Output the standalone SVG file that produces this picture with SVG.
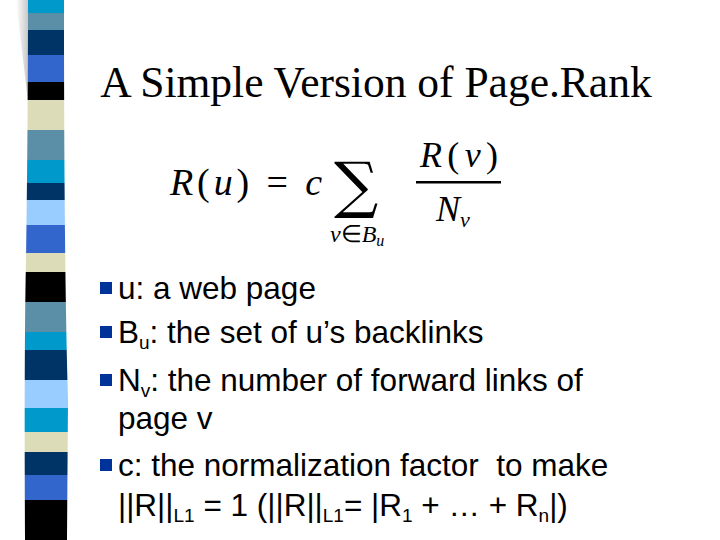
<svg xmlns="http://www.w3.org/2000/svg" width="720" height="540" viewBox="0 0 720 540">
<style>
.t{font-family:"Liberation Sans",Arial,sans-serif;font-size:31.5px;fill:#000}
.s{font-size:19px}
.m{font-family:"Liberation Serif","Times New Roman",serif;font-style:italic;fill:#000}
.b{fill:#003399}
</style>
<defs>
<clipPath id="cp"><path d="M28,0 L64,0 Q64,270 68,400 L67,540 L25,540 Q24,350 26,260 Q28,120 28,0Z"/></clipPath>
<linearGradient id="sh" x1="0" x2="1"><stop offset="0" stop-color="#fff"/><stop offset="1" stop-color="#aaa"/></linearGradient>
</defs>
<rect width="720" height="540" fill="#fff"/>
<g id="stripe">
<path d="M16,0 L29,0 Q28,60 29,110 Z" fill="url(#sh)" opacity="0.7"/>
<g clip-path="url(#cp)">
<rect x="20" y="0" width="60" height="13" fill="#0099cc"/>
<rect x="20" y="13" width="60" height="17" fill="#5b8fa8"/>
<rect x="20" y="30" width="60" height="25" fill="#003366"/>
<rect x="20" y="55" width="60" height="27" fill="#3366cc"/>
<rect x="20" y="82" width="60" height="18" fill="#000"/>
<rect x="20" y="100" width="60" height="30" fill="#dddcb8"/>
<rect x="20" y="130" width="60" height="30" fill="#5b8fa8"/>
<rect x="20" y="160" width="60" height="23" fill="#0099cc"/>
<rect x="20" y="183" width="60" height="17" fill="#003366"/>
<rect x="20" y="200" width="60" height="25" fill="#99ccff"/>
<rect x="20" y="225" width="60" height="28" fill="#3366cc"/>
<rect x="20" y="253" width="60" height="19" fill="#dddcb8"/>
<rect x="20" y="272" width="60" height="30" fill="#000"/>
<rect x="20" y="302" width="60" height="30" fill="#5b8fa8"/>
<rect x="20" y="332" width="60" height="18" fill="#0099cc"/>
<rect x="20" y="350" width="60" height="30" fill="#003366"/>
<rect x="20" y="380" width="60" height="28" fill="#99ccff"/>
<rect x="20" y="408" width="60" height="24" fill="#0099cc"/>
<rect x="20" y="432" width="60" height="20" fill="#dddcb8"/>
<rect x="20" y="452" width="60" height="23" fill="#003366"/>
<rect x="20" y="475" width="60" height="25" fill="#3366cc"/>
<rect x="20" y="500" width="60" height="40" fill="#000"/>
</g>
</g>
<g id="title"><text x="376" y="97" text-anchor="middle" font-family="Liberation Serif,'Times New Roman',serif" font-size="43.5">A Simple Version of Page.Rank</text></g>
<g id="formula">
<text x="170" y="195" font-size="38" font-family="Liberation Serif,serif" textLength="152"><tspan font-style="italic">R</tspan>(<tspan font-style="italic">u</tspan>) = <tspan font-style="italic">c</tspan></text>
<text x="334" y="206" font-family="DejaVu Serif,serif" font-size="62">∑</text>
<text class="m" x="330" y="242" font-size="24">v<tspan font-style="normal">∈</tspan>B<tspan font-size="16" dy="4">u</tspan></text>
<text x="420" y="167" font-size="36" font-family="Liberation Serif,serif" textLength="78"><tspan font-style="italic">R</tspan>(<tspan font-style="italic">v</tspan>)</text>
<rect x="416" y="181" width="85" height="2.5" fill="#000"/>
<text class="m" x="436" y="221" font-size="36">N<tspan font-size="22" dy="6">v</tspan></text>
</g>
<g id="bullets">
<rect class="b" x="100" y="282" width="12" height="12"/>
<text class="t" x="118" y="299">u: a web page</text>
<rect class="b" x="100" y="326" width="12" height="12"/>
<text class="t" x="118" y="343">B<tspan class="s" dy="6">u</tspan><tspan dy="-6">: the set of u’s backlinks</tspan></text>
<rect class="b" x="100" y="374" width="12" height="12"/>
<text class="t" x="118" y="391">N<tspan class="s" dy="6">v</tspan><tspan dy="-6">: the number of forward links of</tspan></text>
<text class="t" x="118" y="429">page v</text>
<rect class="b" x="100" y="459" width="12" height="12"/>
<text class="t" x="118" y="476" xml:space="preserve">c: the normalization factor  to make</text>
<text class="t" x="118" y="516">||R||<tspan class="s" dy="6">L1</tspan><tspan dy="-6"> = 1 (||R||</tspan><tspan class="s" dy="6">L1</tspan><tspan dy="-6">= |R</tspan><tspan class="s" dy="6">1</tspan><tspan dy="-6"> + … + R</tspan><tspan class="s" dy="6">n</tspan><tspan dy="-6">|)</tspan></text>
</g>
</svg>
